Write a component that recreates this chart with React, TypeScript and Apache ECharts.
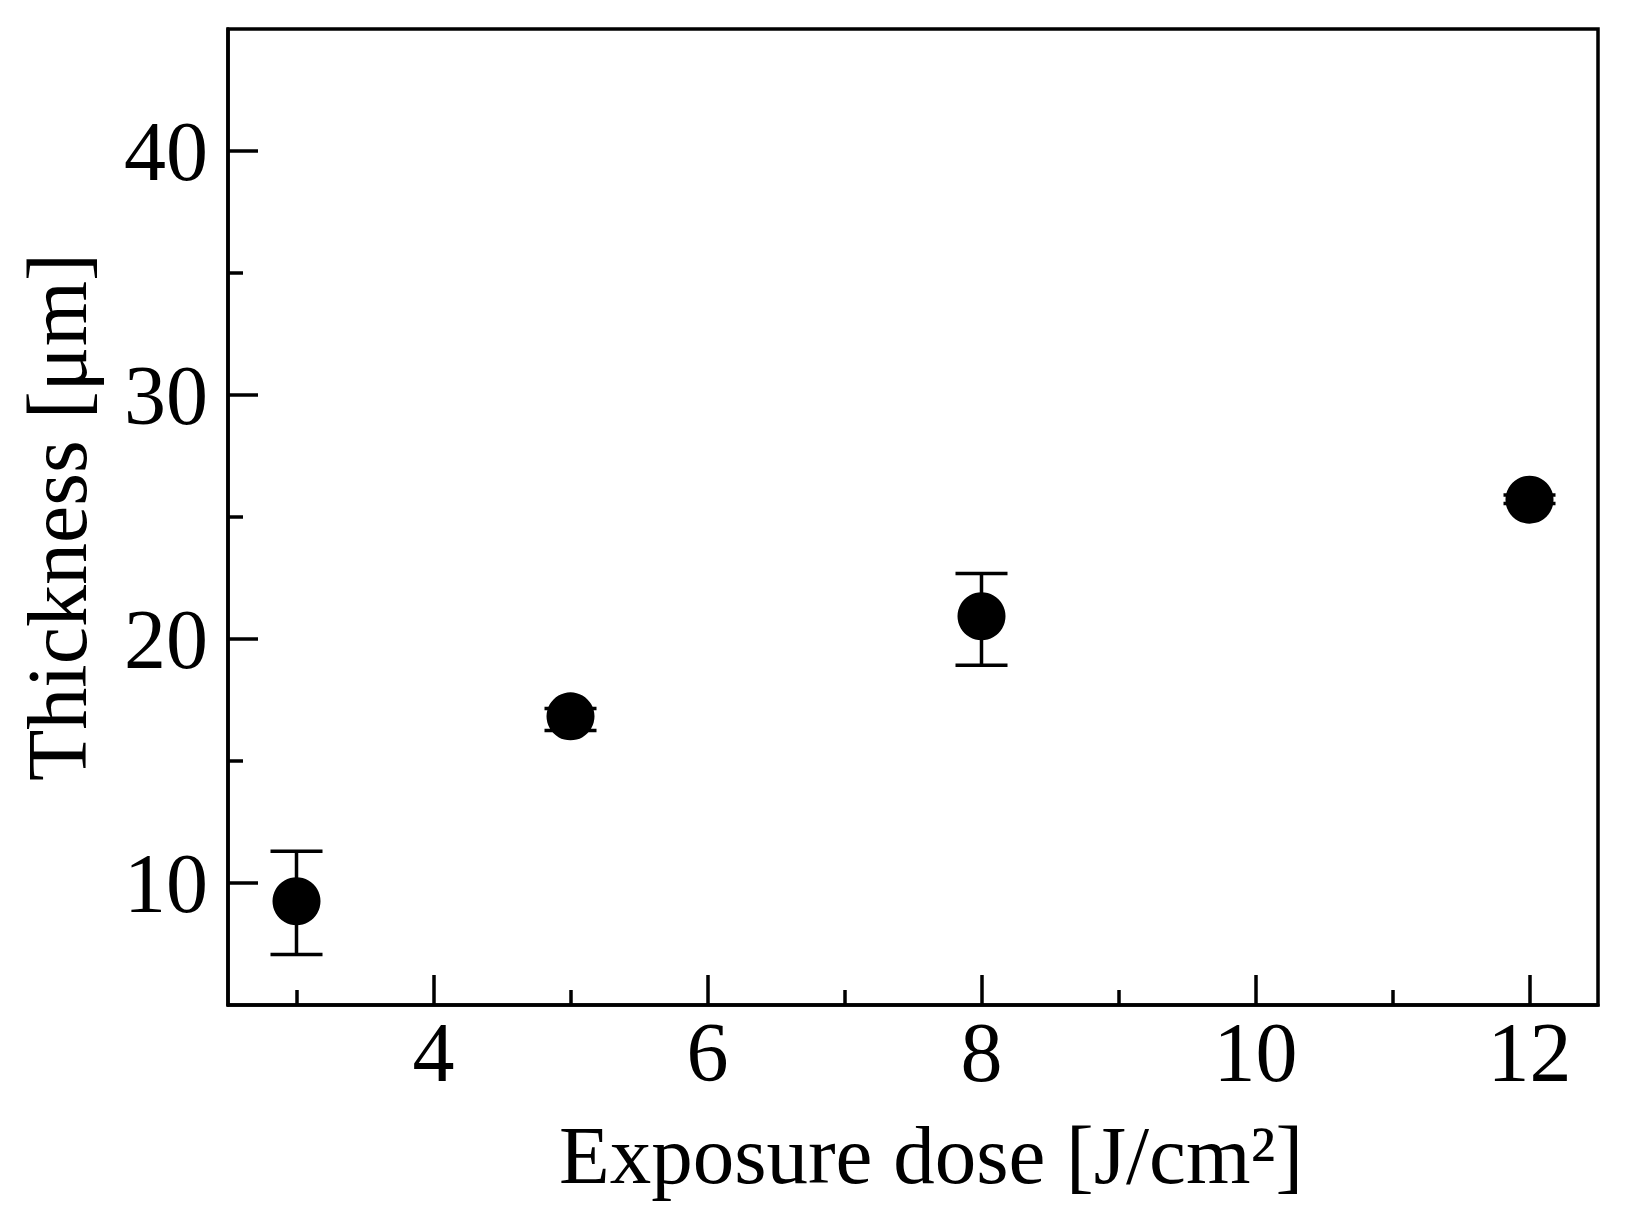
import React, { useEffect, useRef } from "react";
import * as echarts from "echarts";

const doses = [3, 5, 8, 12];
const thickness = [9.25, 16.83, 20.93, 25.71];
const errLow = [7.07, 16.25, 18.92, 25.55];
const errHigh = [11.3, 17.15, 22.68, 25.9];

const xMajor = [4, 6, 8, 10, 12];
const xMinor = [3, 5, 7, 9, 11];
const yMajor = [10, 20, 30, 40];
const yMinor = [15, 25, 35];

const xName = "Exposure dose [J/cm²]";
const yName = "Thickness [μm]";

const FONT = "Liberation Serif";

export default function App() {
  const ref = useRef<HTMLDivElement>(null);
  useEffect(() => {
    if (!ref.current) return;
    const chart = echarts.init(ref.current, null, { renderer: "svg" });
    const lineStyle = { color: "#000", width: 3.5 };
    const labelStyle = { fontFamily: FONT, fontSize: 84, color: "#000" };
    const scatterData = doses.map((d, i) => [d, thickness[i]]);
    const errData = doses.map((d, i) => [d, errLow[i], errHigh[i]]);
    chart.setOption({
      animation: false,
      backgroundColor: "#fff",
      grid: {
        left: 228,
        right: 39,
        top: 29,
        bottom: 217,
        show: true,
        borderColor: "#000",
        borderWidth: 3.5,
        outerBoundsMode: "none",
        containLabel: false,
      },
      xAxis: [
        {
          type: "value",
          min: 2.5,
          max: 12.5,
          position: "bottom",
          axisLine: { show: true, onZero: false, lineStyle },
          axisTick: { show: true, inside: true, length: 30, lineStyle, customValues: xMajor },
          axisLabel: { ...labelStyle, margin: 5, customValues: xMajor },
          splitLine: { show: false },
          name: xName,
          nameLocation: "middle",
          nameGap: 108,
          nameTextStyle: { fontFamily: FONT, fontSize: 83, color: "#000", padding: [0, 0, 0, 36] },
        },
        {
          type: "value",
          min: 2.5,
          max: 12.5,
          position: "bottom",
          axisLine: { show: false, onZero: false },
          axisTick: { show: true, inside: true, length: 15, lineStyle, customValues: xMinor },
          axisLabel: { show: false },
          splitLine: { show: false },
        },
      ],
      yAxis: [
        {
          type: "value",
          min: 5,
          max: 45,
          position: "left",
          axisLine: { show: true, onZero: false, lineStyle },
          axisTick: { show: true, inside: true, length: 30, lineStyle, customValues: yMajor },
          axisLabel: { ...labelStyle, margin: 20, customValues: yMajor },
          splitLine: { show: false },
          name: yName,
          nameLocation: "middle",
          nameGap: 129,
          nameTextStyle: { fontFamily: FONT, fontSize: 84, color: "#000" },
        },
        {
          type: "value",
          min: 5,
          max: 45,
          position: "left",
          axisLine: { show: false, onZero: false },
          axisTick: { show: true, inside: true, length: 15, lineStyle, customValues: yMinor },
          axisLabel: { show: false },
          splitLine: { show: false },
        },
      ],
      series: [
        {
          type: "custom",
          xAxisIndex: 0,
          yAxisIndex: 0,
          z: 1,
          encode: { x: 0, y: [1, 2] },
          data: errData,
          renderItem: (params: any, api: any) => {
            const x = api.value(0);
            const lo = api.value(1);
            const hi = api.value(2);
            const pHi = api.coord([x, hi]);
            const pLo = api.coord([x, lo]);
            const hw = 26;
            const st = { stroke: "#000", lineWidth: 3.5 };
            return {
              type: "group",
              children: [
                { type: "line", shape: { x1: pHi[0], y1: pHi[1], x2: pLo[0], y2: pLo[1] }, style: st },
                { type: "line", shape: { x1: pHi[0] - hw, y1: pHi[1], x2: pHi[0] + hw, y2: pHi[1] }, style: st },
                { type: "line", shape: { x1: pLo[0] - hw, y1: pLo[1], x2: pLo[0] + hw, y2: pLo[1] }, style: st },
              ],
            };
          },
        },
        {
          type: "scatter",
          xAxisIndex: 0,
          yAxisIndex: 0,
          z: 3,
          symbol: "circle",
          symbolSize: 48,
          itemStyle: { color: "#000", opacity: 1 },
          data: scatterData,
        },
      ],
    });
    return () => chart.dispose();
  }, []);
  return (
    <div
      ref={ref}
      style={{ position: "absolute", left: 0, top: 0, width: 1637, height: 1222 }}
    />
  );
}
